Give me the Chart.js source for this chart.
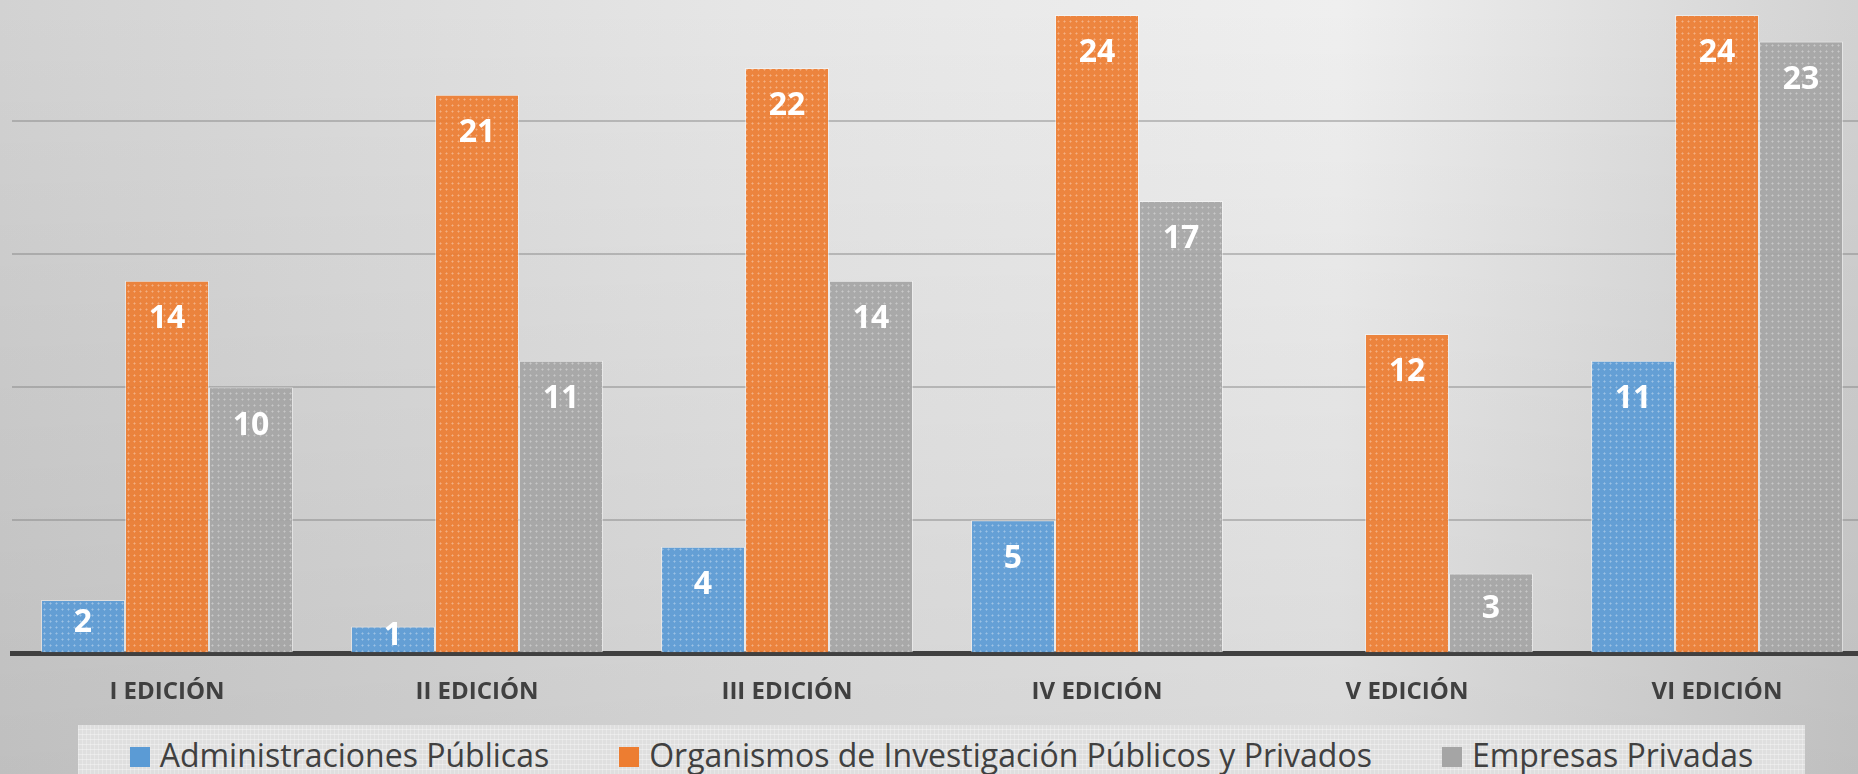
<!DOCTYPE html>
<html>
<head>
<meta charset="utf-8">
<script src="https://cdn.jsdelivr.net/npm/chart.js@4"></script>
<style>
  html, body { margin: 0; padding: 0; overflow: hidden; background: #d4d4d4; }
  #wrap { position: relative; width: 1858px; height: 774px; overflow: hidden; }
  #chart { position: absolute; left: 0; top: 0; }
  #legend {
    position: absolute; left: 78px; top: 725px; width: 1727px; height: 70px;
    background-color: #dfdfdf;
    background-image:
      repeating-linear-gradient(0deg, rgba(255,255,255,0.35) 0 1px, transparent 1px 5px),
      repeating-linear-gradient(90deg, rgba(255,255,255,0.25) 0 1px, transparent 1px 4px);
    display: flex; justify-content: center; gap: 70px;
    font-family: "Open Sans", sans-serif; font-size: 32px; line-height: 32px; color: #404040;
  }
  #legend .item { display: flex; align-items: center; margin-top: 13.6px; height: 32px; white-space: nowrap; }
  #legend .box { width: 20px; height: 20px; margin-right: 10px; position: relative; top: 2px; }
</style>
</head>
<body>
<div id="wrap">
  <canvas id="chart" width="1872" height="774"></canvas>
  <div id="legend"></div>
</div>
<script>
// chart data
const categories = ['I EDICIÓN', 'II EDICIÓN', 'III EDICIÓN', 'IV EDICIÓN', 'V EDICIÓN', 'VI EDICIÓN'];
const seriesNames = ['Administraciones Públicas', 'Organismos de Investigación Públicos y Privados', 'Empresas Privadas'];
const adminPublicas = [2, 1, 4, 5, null, 11];
const organismos = [14, 21, 22, 24, 12, 24];
const empresas = [10, 11, 14, 17, 3, 23];
const seriesColors = ['#5b9bd5', '#ed7d31', '#a5a5a5'];

// small dotted texture like the office fill
function texture(color) {
  const c = document.createElement('canvas');
  c.width = 6; c.height = 6;
  const g = c.getContext('2d');
  g.globalAlpha = 0.93;
  g.fillStyle = color;
  g.fillRect(0, 0, 6, 6);
  g.globalAlpha = 1;
  g.fillStyle = 'rgba(255,255,255,0.2)';
  g.fillRect(1, 3, 3, 1);
  g.fillRect(2, 2, 1, 3);
  return g.createPattern(c, 'repeat');
}

const bgPlugin = {
  id: 'bg',
  beforeDraw(chart) {
    const { ctx, width, height } = chart;
    ctx.save();
    const h = ctx.createLinearGradient(0, 0, 1858, 0);
    h.addColorStop(0, '#d2d2d2');
    h.addColorStop(0.4, '#e6e6e6');
    h.addColorStop(0.72, '#efefef');
    h.addColorStop(1, '#d2d2d2');
    ctx.fillStyle = h;
    ctx.fillRect(0, 0, width, height);
    const v = ctx.createLinearGradient(0, 0, 0, height);
    v.addColorStop(0, 'rgba(0,0,0,0)');
    v.addColorStop(1, 'rgba(0,0,0,0.09)');
    ctx.fillStyle = v;
    ctx.fillRect(0, 0, width, height);
    ctx.restore();
  }
};

const barLabels = {
  id: 'barLabels',
  afterDatasetsDraw(chart) {
    const ctx = chart.ctx;
    ctx.save();
    ctx.font = 'bold 32px "Open Sans"';
    ctx.fillStyle = '#ffffff';
    ctx.textAlign = 'center';
    ctx.textBaseline = 'alphabetic';
    chart.data.datasets.forEach((ds, i) => {
      chart.getDatasetMeta(i).data.forEach((bar, j) => {
        const v = ds.data[j];
        if (v == null) return;
        const h = bar.base - bar.y;
        const off = Math.min(36, Math.max(7, h / 2 - 6));
        ctx.fillText(String(v), bar.x, bar.y + off + 11.4);
      });
    });
    ctx.restore();
  }
};

const chart = new Chart(document.getElementById('chart'), {
  type: 'bar',
  data: {
    labels: categories,
    datasets: [
      { label: seriesNames[0], data: adminPublicas, backgroundColor: texture(seriesColors[0]) },
      { label: seriesNames[1], data: organismos, backgroundColor: texture(seriesColors[1]) },
      { label: seriesNames[2], data: empresas, backgroundColor: texture(seriesColors[2]) }
    ].map(d => Object.assign(d, {
      borderColor: 'rgba(255,255,255,0.45)',
      borderWidth: 1,
      barPercentage: 1,
      categoryPercentage: 0.813
    }))
  },
  options: {
    responsive: false,
    animation: false,
    layout: { padding: { left: 12, right: 0, top: 0, bottom: 42 } },
    plugins: {
      legend: { display: false },
      tooltip: { enabled: false }
    },
    scales: {
      x: {
        grid: { display: false, drawTicks: false },
        border: { display: true, color: '#404040', width: 5 },
        ticks: {
          color: '#404040',
          padding: 25,
          font: { family: 'Open Sans', size: 24, weight: 'bold' }
        }
      },
      y: {
        min: 0,
        max: 24.56,
        ticks: { display: false, stepSize: 5 },
        border: { display: false },
        grid: {
          drawTicks: false,
          lineWidth: 2,
          color: c => (c.tick && c.tick.value % 5 === 0 && c.tick.value > 0) ? 'rgba(130,130,130,0.45)' : 'rgba(0,0,0,0)'
        }
      }
    }
  },
  plugins: [bgPlugin, barLabels]
});

// html legend built from the chart's own legend items
const legendEl = document.getElementById('legend');
chart.options.plugins.legend.labels.generateLabels(chart).forEach((item, i) => {
  const el = document.createElement('div');
  el.className = 'item';
  const box = document.createElement('span');
  box.className = 'box';
  box.style.background = seriesColors[i];
  const txt = document.createElement('span');
  txt.textContent = item.text;
  el.appendChild(box);
  el.appendChild(txt);
  legendEl.appendChild(el);
});
</script>
</body>
</html>
